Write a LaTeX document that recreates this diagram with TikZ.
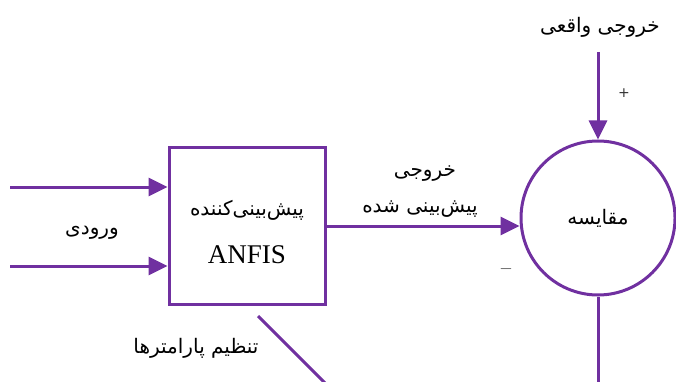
\documentclass[tikz,border=0pt]{standalone}
\usepackage{fontspec}
\setmainfont{Liberation Serif}
\newfontfamily\farsi[Script=Arabic]{DejaVu Sans}
\TeXXeTstate=1
\usetikzlibrary{arrows.meta,positioning}

\definecolor{anfispurple}{HTML}{7030A0}

\tikzset{
  flow/.style={draw=anfispurple, line width=3pt, -{Triangle[length=19pt,width=18pt]}},
  link/.style={draw=anfispurple, line width=3pt},
  fa/.style={font=\farsi\fontsize{20}{24}\selectfont},
  sign/.style={font=\farsi\fontsize{14}{16}\selectfont, text=black!80},
}

\begin{document}
\begin{tikzpicture}[x=1pt, y=-1pt]
        \useasboundingbox (0,0) rectangle (676,382);

        \node[draw=anfispurple, line width=3pt, minimum width=156pt, minimum height=156pt] (pred) at (247,226) {};
        \node[fa] (predname) at (247,210) {\beginR پیش‌بینی‌کننده\endR};
        \node[font=\fontsize{27}{30}\selectfont] (anfis) at (247,255) {ANFIS};

        \node[circle, draw=anfispurple, line width=3pt, minimum size=154pt] (cmp) at (598,218) {};
        \node[fa] (cmpname) at (cmp) {\beginR مقایسه\endR};

        \coordinate (in1) at (10,187);
        \coordinate (in2) at (10,266);
        \coordinate (real) at (598,52);
        \coordinate (errend) at (598,384);
        \coordinate (tune1) at (258,316);
        \coordinate (tune2) at (326,384);

        \node[fa] (inlabel) at (92,233) {\beginR ورودی\endR};
        \node[fa] (reallabel) at (600,27) {\beginR خروجی واقعی\endR};
        \node[fa] (outlabel1) at (425,174) {\beginR خروجی\endR};
        \node[fa] (outlabel2) at (420,209) {\beginR پیش‌بینی شده\endR};
        \node[fa] (tunelabel) at (196,348) {\beginR تنظیم پارامترها\endR};
        \node[sign] (plus) at (624,93) {+};
        \node[sign, font=\fontsize{18}{20}\selectfont] (minus) at (506,269) {$-$};

        \draw[flow] (in1) -- (in1 -| pred.west);
        \draw[flow] (in2) -- (in2 -| pred.west);
        \draw[flow] (pred.east) -- (pred.east -| cmp.west);
        \draw[flow] (real) -- (cmp.north);
        \draw[link] (cmp.south) -- (errend);
        \draw[link] (tune1) -- (tune2);

\end{tikzpicture}
\end{document}
